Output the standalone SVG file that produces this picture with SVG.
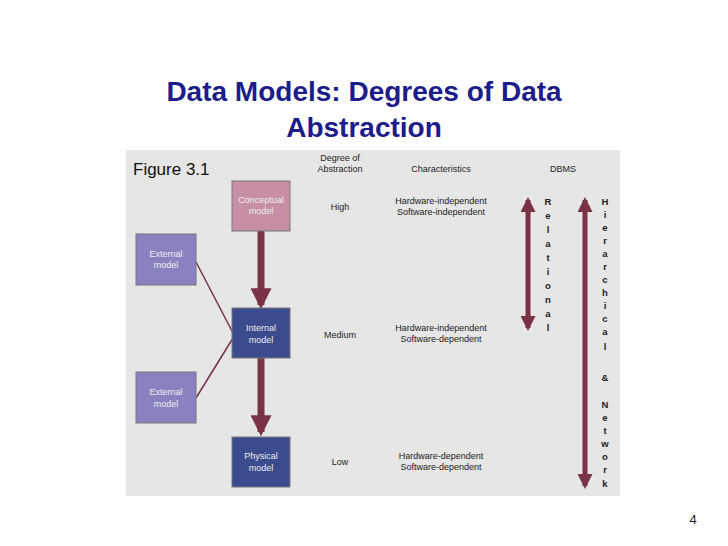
<svg xmlns="http://www.w3.org/2000/svg" width="728" height="546" viewBox="0 0 728 546">
<defs>
<style>
.t{font-family:"Liberation Sans",Arial,sans-serif}
.title{font-size:28px;font-weight:bold;fill:#1c1c8a;text-anchor:middle}
.s{font-size:9px;fill:#222;text-anchor:middle}
.b{font-size:9px;fill:#eee;text-anchor:middle}
.l{font-size:9.5px;fill:#222;text-anchor:middle;font-weight:bold}
.sh{stroke:#777;stroke-width:1}
</style>
<marker id="ah" viewBox="0 0 10 10" refX="8" refY="5" markerWidth="3" markerHeight="3" orient="auto-start-reverse"><path d="M0,0 L10,5 L0,10 z" fill="#7a3344"/></marker>
</defs>
<rect width="728" height="546" fill="#fff"/>
<text class="t title" x="364" y="101">Data Models: Degrees of Data</text>
<text class="t title" x="364" y="137">Abstraction</text>
<rect x="126" y="150" width="494" height="346" fill="#e6e6e6"/>
<text class="t" x="133" y="175" font-size="17" fill="#111">Figure 3.1</text>
<text class="t s" x="340" y="161">Degree of</text>
<text class="t s" x="340" y="172">Abstraction</text>
<text class="t s" x="441" y="172">Characteristics</text>
<text class="t s" x="563" y="172">DBMS</text>
<text class="t s" x="340" y="210">High</text>
<text class="t s" x="441" y="204">Hardware-independent</text>
<text class="t s" x="441" y="215">Software-independent</text>
<text class="t s" x="340" y="338">Medium</text>
<text class="t s" x="441" y="331">Hardware-independent</text>
<text class="t s" x="441" y="342">Software-dependent</text>
<text class="t s" x="340" y="465">Low</text>
<text class="t s" x="441" y="459">Hardware-dependent</text>
<text class="t s" x="441" y="470">Software-dependent</text>
<g id="connectors" fill="none">
<line x1="196" y1="262" x2="233" y2="333" stroke="#7a3344" stroke-width="1.5"/>
<line x1="196" y1="398" x2="233" y2="338" stroke="#7a3344" stroke-width="1.5"/>
<line x1="261" y1="231" x2="261" y2="305" stroke="#7a3344" stroke-width="7" marker-end="url(#ah)"/>
<line x1="261" y1="358" x2="261" y2="432" stroke="#7a3344" stroke-width="7" marker-end="url(#ah)"/>
<line x1="528" y1="200" x2="528" y2="328" stroke="#7a3344" stroke-width="5" marker-start="url(#ah)" marker-end="url(#ah)"/>
<line x1="585" y1="200" x2="585" y2="486" stroke="#7a3344" stroke-width="5" marker-start="url(#ah)" marker-end="url(#ah)"/>
</g>
<g id="conceptual"><rect class="sh" x="232" y="181" width="58" height="50" fill="#c88ea8"/><text class="t b" x="261" y="203">Conceptual</text><text class="t b" x="261" y="214">model</text></g>
<g id="external1"><rect class="sh" x="136" y="234" width="60" height="51" fill="#8a82c0"/><text class="t b" x="166" y="257">External</text><text class="t b" x="166" y="268">model</text></g>
<g id="internal"><rect class="sh" x="232" y="308" width="58" height="50" fill="#3c4a8e"/><text class="t b" x="261" y="331">Internal</text><text class="t b" x="261" y="343">model</text></g>
<g id="external2"><rect class="sh" x="136" y="372" width="60" height="51" fill="#8a82c0"/><text class="t b" x="166" y="395">External</text><text class="t b" x="166" y="407">model</text></g>
<g id="physical"><rect class="sh" x="232" y="437" width="58" height="50" fill="#3c4a8e"/><text class="t b" x="261" y="459">Physical</text><text class="t b" x="261" y="471">model</text></g>
<g id="relational-label">
<text class="t l" x="548" y="205">R</text><text class="t l" x="548" y="219">e</text><text class="t l" x="548" y="233">l</text><text class="t l" x="548" y="247">a</text><text class="t l" x="548" y="261">t</text><text class="t l" x="548" y="275">i</text><text class="t l" x="548" y="289">o</text><text class="t l" x="548" y="303">n</text><text class="t l" x="548" y="317">a</text><text class="t l" x="548" y="331">l</text>
</g>
<g id="hier-label">
<text class="t l" x="605" y="205">H</text><text class="t l" x="605" y="218">i</text><text class="t l" x="605" y="231">e</text><text class="t l" x="605" y="244">r</text><text class="t l" x="605" y="257">a</text><text class="t l" x="605" y="270">r</text><text class="t l" x="605" y="283">c</text><text class="t l" x="605" y="296">h</text><text class="t l" x="605" y="309">i</text><text class="t l" x="605" y="322">c</text><text class="t l" x="605" y="335">a</text><text class="t l" x="605" y="350">l</text>
<text class="t l" x="605" y="381">&amp;</text>
<text class="t l" x="605" y="408">N</text><text class="t l" x="605" y="421">e</text><text class="t l" x="605" y="434">t</text><text class="t l" x="605" y="447">w</text><text class="t l" x="605" y="460">o</text><text class="t l" x="605" y="473">r</text><text class="t l" x="605" y="487">k</text>
</g>
<text class="t" x="693" y="524" font-size="13" fill="#222" text-anchor="middle">4</text>
</svg>
